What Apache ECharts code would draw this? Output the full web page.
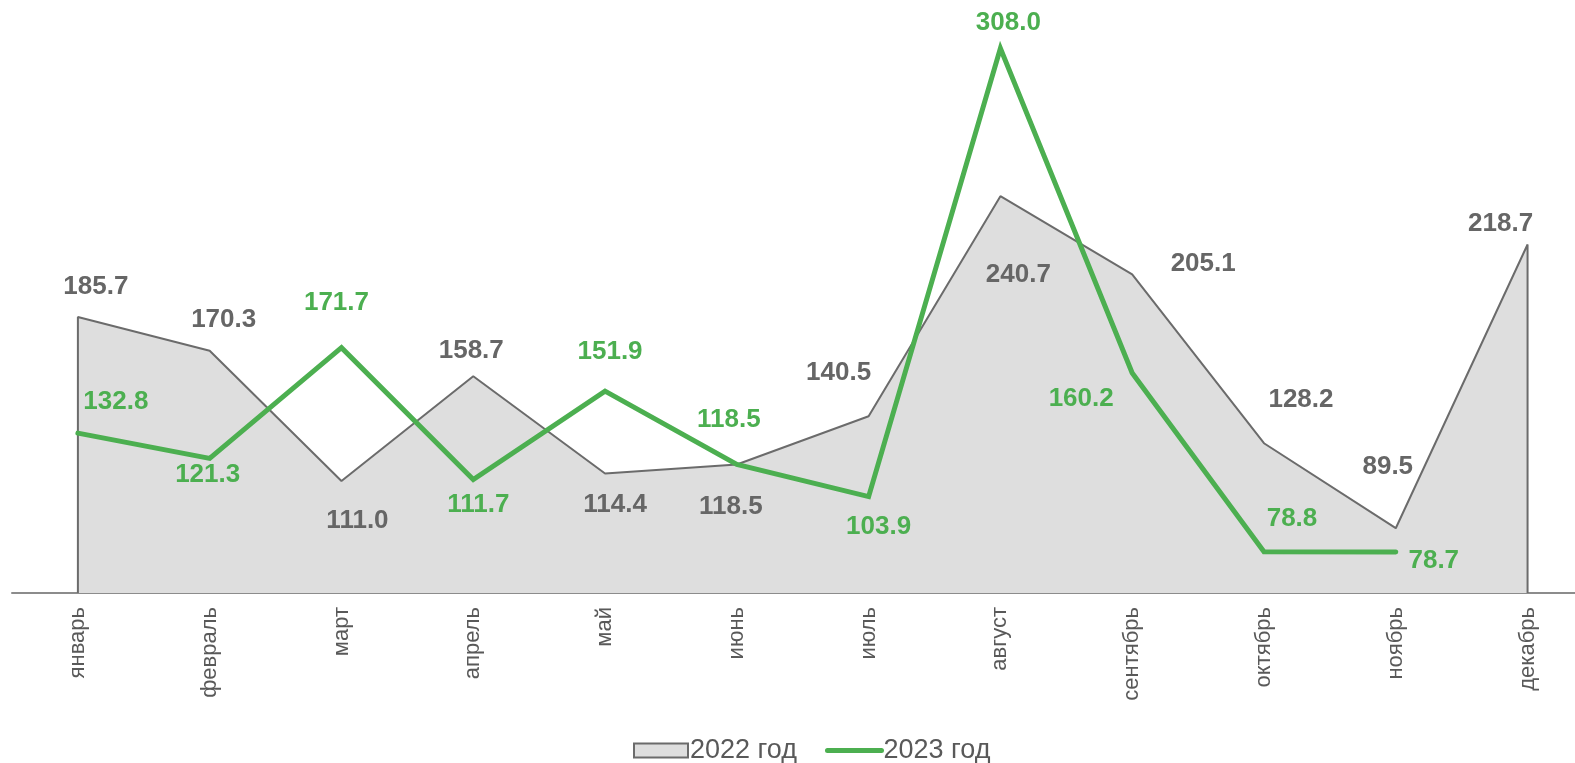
<!DOCTYPE html>
<html>
<head>
<meta charset="utf-8">
<script src="https://cdn.jsdelivr.net/npm/echarts@6/dist/echarts.min.js"></script>
<style>
html,body{margin:0;padding:0;background:#fff;}
#chart{width:1575px;height:763px;}
</style>
</head>
<body>
<div id="chart"></div>
<script>
const months = ['январь','февраль','март','апрель','май','июнь','июль','август','сентябрь','октябрь','ноябрь','декабрь'];
const values2022 = [185.7,170.3,111.0,158.7,114.4,118.5,140.5,240.7,205.1,128.2,89.5,218.7];
const values2023 = [132.8,121.3,171.7,111.7,151.9,118.5,103.9,308.0,160.2,78.8,78.7];
const seriesNames = ['2022 год','2023 год'];

// label placement (pixel offsets of each label from its point)
const labelOffsets2022 = [[18,-30],[14,-31],[16,40],[-2,-25],[10,31],[-6,42],[-30,-43],[18,79],[71,-11],[37,-43],[-8,-61],[-27,-21]];
const labelOffsets2023 = [[38,-31],[-2,16],[-5,-45],[5,25],[5,-39],[-8,-45],[10,30],[8,-26],[-51,26],[28,-33],[38,9]];

const Y_MIN = 60, Y_MAX = 320;
const GRAY_LINE = '#6b6b6b', GRAY_FILL = '#dedede', GRAY_TEXT = '#666666', GREEN = '#4caf50';
const FONT = '"Liberation Sans", Arial, sans-serif';

const labelBase = {show:true, position:'inside', fontFamily:FONT, fontSize:26, fontWeight:'bold',
  formatter:(p)=>Number(p.value[1]).toFixed(1)};

const data2022 = [{value:[0,Y_MIN], label:{show:false}}]
  .concat(values2022.map((v,i)=>({value:[i,v], label:Object.assign({}, labelBase, {color:GRAY_TEXT, offset:labelOffsets2022[i]})})))
  .concat([{value:[values2022.length-1,Y_MIN], label:{show:false}}]);
const data2023 = values2023.map((v,i)=>({value:[i,v], label:Object.assign({}, labelBase, {color:GREEN, offset:labelOffsets2023[i]})}));

const chart = echarts.init(document.getElementById('chart'));
chart.setOption({
  animation:false,
  grid:{left:12, right:0, top:22, bottom:170, containLabel:false},
  xAxis:{
    type:'value', min:-0.5, max:11.36,
    axisLine:{show:true, onZero:false, lineStyle:{color:'#8c8c8c', width:2}},
    axisTick:{show:false},
    splitLine:{show:false},
    axisLabel:{
      customValues:months.map((m,i)=>i),
      formatter:(v)=>months[Math.round(v)] || '',
      rotate:90, margin:14, fontSize:22, color:'#595959', fontFamily:FONT
    }
  },
  yAxis:{type:'value', min:Y_MIN, max:Y_MAX, show:false, splitLine:{show:false}},
  legend:{
    left:628, top:732,
    itemWidth:54, itemHeight:14, itemGap:28,
    textStyle:{fontSize:27, color:'#595959', fontFamily:FONT, padding:[0,0,0,-3]},
    data:[
      {name:seriesNames[0], icon:'rect', itemStyle:{color:GRAY_FILL, borderColor:GRAY_LINE, borderWidth:2}},
      {name:seriesNames[1], lineStyle:{color:GREEN, width:5, cap:'round'}}
    ]
  },
  series:[
    {
      name:seriesNames[0], type:'line', data:data2022,
      symbol:'circle', symbolSize:1,
      itemStyle:{color:'rgba(0,0,0,0)'},
      lineStyle:{color:GRAY_LINE, width:2},
      areaStyle:{color:GRAY_FILL, opacity:1, origin:'start'},
      z:1
    },
    {
      name:seriesNames[1], type:'line', data:data2023,
      symbol:'circle', symbolSize:1,
      itemStyle:{color:'rgba(0,0,0,0)'},
      lineStyle:{color:GREEN, width:5, cap:'round', join:'miter'},
      z:2
    }
  ]
});
</script>
</body>
</html>
